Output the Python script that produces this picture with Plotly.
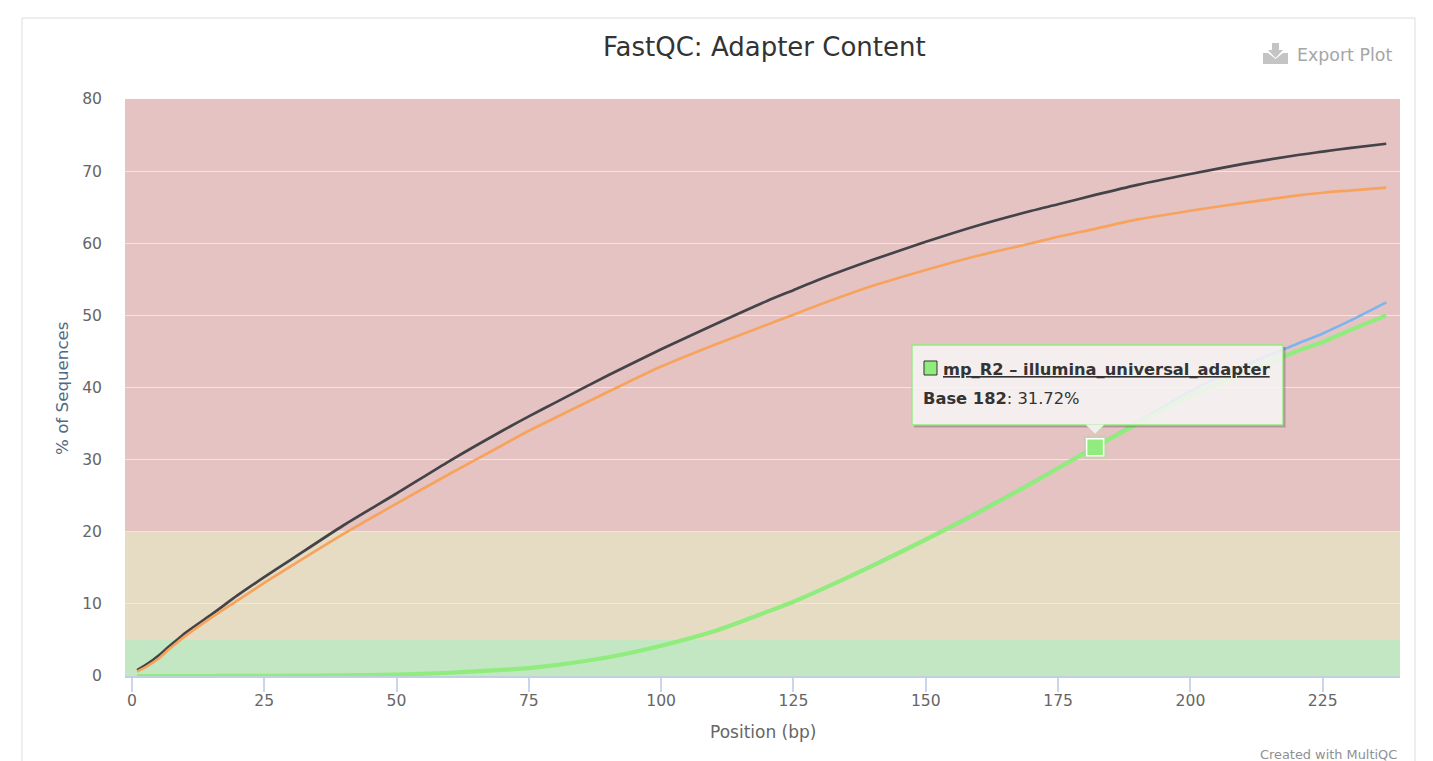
import plotly.graph_objects as go

# ---- data ----
positions = [1, 3, 5, 7, 9, 10, 15, 20, 25, 30, 40, 50, 60, 70, 75, 80, 90, 100, 110, 120, 125, 130, 140, 150, 160, 170, 175, 182, 190, 200, 210, 220, 225, 230, 237]
mp_r1_dark = [0.8, 1.7, 2.8, 4.1, 5.3, 5.9, 8.5, 11.2, 13.7, 16.1, 20.9, 25.3, 29.8, 34.0, 36.0, 37.9, 41.7, 45.3, 48.7, 52.0, 53.5, 55.0, 57.7, 60.2, 62.5, 64.5, 65.4, 66.7, 68.1, 69.6, 71.0, 72.2, 72.7, 73.2, 73.8]
mp_r1_orange = [0.6, 1.4, 2.4, 3.7, 4.9, 5.5, 8.1, 10.5, 12.9, 15.2, 19.7, 23.9, 28.0, 32.0, 34.0, 35.8, 39.4, 42.9, 45.9, 48.7, 50.1, 51.5, 54.1, 56.3, 58.3, 60.0, 60.9, 62.0, 63.3, 64.5, 65.6, 66.6, 67.0, 67.3, 67.7]
mp_r2_blue = [0.0, 0.0, 0.0, 0.0, 0.0, 0.0, 0.0, 0.01, 0.02, 0.04, 0.08, 0.2, 0.45, 0.85, 1.1, 1.5, 2.6, 4.2, 6.2, 8.9, 10.3, 11.9, 15.4, 19.0, 22.8, 26.8, 28.9, 31.8, 35.2, 39.5, 43.0, 46.0, 47.5, 49.2, 51.8]
mp_r2_green = [0.0, 0.0, 0.0, 0.0, 0.0, 0.0, 0.0, 0.01, 0.02, 0.04, 0.08, 0.2, 0.45, 0.85, 1.1, 1.5, 2.6, 4.2, 6.2, 8.9, 10.3, 11.9, 15.3, 18.9, 22.7, 26.7, 28.8, 31.72, 35.0, 38.8, 42.0, 45.0, 46.3, 47.9, 50.0]
hover_x = [182]
hover_y = [31.72]
band_edges = [0, 5, 20, 80]
band_colors = ["#c3e6c3", "#e6dcc3", "#e5c3c3"]
x_ticks = [0, 25, 50, 75, 100, 125, 150, 175, 200, 225]
y_ticks = [0, 10, 20, 30, 40, 50, 60, 70, 80]

W, H = 1433, 761
L, R, T, B = 125, 33, 99, 85
FONT = "DejaVu Sans"
TIP_FILL = "rgba(247,245,245,0.86)"


def px(v):
    return (v - L) / (W - L - R)


def py(v):
    return 1 - (v - T) / (H - T - B)


def line_style(color, width):
    return dict(color=color, width=width, shape="spline", smoothing=0.7)


fig = go.Figure()
fig.add_trace(go.Scatter(x=positions, y=mp_r2_blue, mode="lines", line=line_style("#7cb5ec", 2.7), hoverinfo="skip"))
fig.add_trace(go.Scatter(x=positions, y=mp_r1_dark, mode="lines", line=line_style("#434348", 2.7), hoverinfo="skip"))
fig.add_trace(go.Scatter(x=positions, y=mp_r2_green, mode="lines", line=line_style("#90ed7d", 4.2), hoverinfo="skip"))
fig.add_trace(go.Scatter(x=positions, y=mp_r1_orange, mode="lines", line=line_style("#f7a35c", 2.7), hoverinfo="skip"))
fig.add_trace(go.Scatter(x=hover_x, y=hover_y, mode="markers",
                         marker=dict(symbol="square", size=24, color="rgba(144,237,125,0.25)", line=dict(width=0)), hoverinfo="skip"))
fig.add_trace(go.Scatter(x=hover_x, y=hover_y, mode="markers",
                         marker=dict(symbol="square", size=17, color="#90ed7d", line=dict(color="#ffffff", width=1.5)), hoverinfo="skip"))

shapes = []
# page card border
shapes.append(dict(type="rect", xref="paper", yref="paper", x0=px(22), x1=px(1415), y0=py(18), y1=py(800),
                   line=dict(color="#dddddd", width=1), fillcolor="rgba(0,0,0,0)", layer="below"))
# coloured bands
for i, c in enumerate(band_colors):
    shapes.append(dict(type="rect", xref="paper", yref="y", x0=0, x1=1, y0=band_edges[i], y1=band_edges[i + 1],
                       fillcolor=c, line=dict(width=0), layer="below"))
# tooltip shadow (right and bottom strips only, so the see-through box stays clean)
for off, alpha in ((3, 0.14), (2, 0.2), (1, 0.26)):
    shapes.append(dict(type="path", xref="paper", yref="paper", layer="above",
                       path=(f"M {px(1283)} {py(347)} L {px(1283 + off)} {py(347)} L {px(1283 + off)} {py(425 + off)} "
                             f"L {px(914)} {py(425 + off)} L {px(914)} {py(425)} L {px(1283)} {py(425)} Z"),
                       fillcolor=f"rgba(70,50,50,{alpha})", line=dict(width=0)))
# tooltip box, pointer, swatch
shapes.append(dict(type="rect", xref="paper", yref="paper", x0=px(912), x1=px(1283), y0=py(345), y1=py(425),
                   fillcolor=TIP_FILL, line=dict(color="#90ed7d", width=1.3), layer="above"))
shapes.append(dict(type="path", xref="paper", yref="paper", layer="above",
                   path=f"M {px(1086)} {py(424.4)} L {px(1095)} {py(434)} L {px(1104)} {py(424.4)} Z",
                   fillcolor="#f3efef", line=dict(width=0)))
shapes.append(dict(type="path", xref="paper", yref="paper", layer="above",
                   path=f"M {px(1086)} {py(425)} L {px(1095)} {py(434)} L {px(1104)} {py(425)}",
                   fillcolor="rgba(0,0,0,0)", line=dict(color="#bfe9b2", width=1)))
shapes.append(dict(type="rect", xref="paper", yref="paper", x0=px(924), x1=px(937), y0=py(361), y1=py(375),
                   fillcolor="#90ed7d", line=dict(color="#333333", width=1), layer="above"))
# export icon
shapes.append(dict(type="path", xref="paper", yref="paper", layer="above",
                   path=(f"M {px(1263)} {py(53)} L {px(1263)} {py(64)} L {px(1288)} {py(64)} L {px(1288)} {py(53)} "
                         f"L {px(1283)} {py(53)} L {px(1275.5)} {py(59)} L {px(1268)} {py(53)} Z"),
                   fillcolor="#c4c4c4", line=dict(width=0)))
shapes.append(dict(type="path", xref="paper", yref="paper", layer="above",
                   path=(f"M {px(1272)} {py(43)} L {px(1279)} {py(43)} L {px(1279)} {py(50)} L {px(1283)} {py(50)} "
                         f"L {px(1275.5)} {py(58)} L {px(1268)} {py(50)} L {px(1272)} {py(50)} Z"),
                   fillcolor="#c4c4c4", line=dict(width=0)))


def text(x, y, s, size, color, anchor="left", angle=0):
    return dict(xref="paper", yref="paper", x=px(x), y=py(y), text=s, showarrow=False, textangle=angle,
                xanchor=anchor, yanchor="middle", font=dict(family=FONT, size=size, color=color))


annotations = [
    text(764, 47, "FastQC: Adapter Content", 26, "#333333", "center"),
    text(1295, 55, "Export Plot", 17.4, "#a6a6a6"),
    text(62, 388, "% of Sequences", 16.7, "#4f6a85", "center", -90),
    text(763, 732, "Position (bp)", 17, "#666666", "center"),
    text(1258, 754, "Created with MultiQC", 12.9, "#909090"),
    text(941, 369, "<b><u>mp_R2 – illumina_universal_adapter</u></b>", 16.3, "#333333"),
    text(921, 398, "<b>Base 182</b>: 31.72%", 16.3, "#333333"),
]

fig.update_layout(
    width=W, height=H, autosize=False,
    margin=dict(l=L, r=R, t=T, b=B, pad=0),
    paper_bgcolor="#ffffff", plot_bgcolor="#ffffff",
    showlegend=False, shapes=shapes, annotations=annotations,
    font=dict(family=FONT, color="#666666", size=15),
    xaxis=dict(range=[-1.3, 239.6], tickvals=x_ticks, ticks="outside", ticklen=14, tickwidth=1.5, tickcolor="#ccd6eb",
               showgrid=False, zeroline=False, showline=True, linecolor="#c0d0e0", linewidth=1.5,
               tickfont=dict(size=15.6, color="#666666"), ticklabelstandoff=-4, fixedrange=True),
    yaxis=dict(range=[0, 80], tickvals=y_ticks, ticks="", showgrid=True, gridcolor="#e9e9e9", gridwidth=1.3,
               zeroline=False, showline=False, tickfont=dict(size=15.6, color="#666666"),
               ticklabelstandoff=22, fixedrange=True),
)

fig.write_html("out.html", config=dict(displayModeBar=False),
               post_script="document.body.style.margin='0';document.body.style.overflow='hidden';")
